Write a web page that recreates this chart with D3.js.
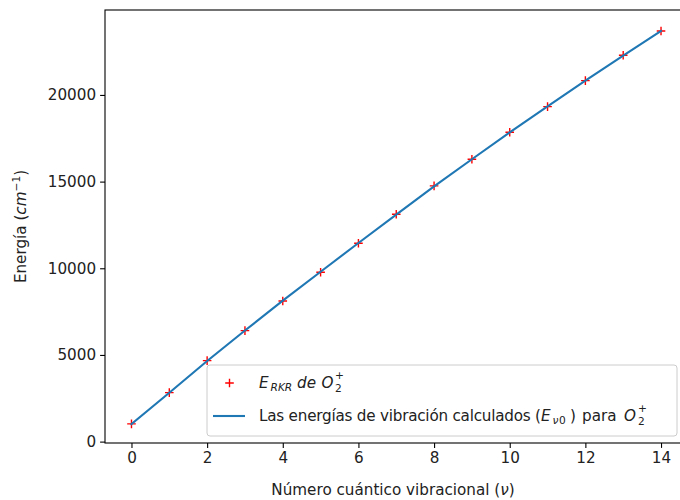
<!DOCTYPE html>
<html>
<head>
<meta charset="utf-8">
<script src="https://cdn.jsdelivr.net/npm/d3@7"></script>
<style>
  html, body { margin: 0; padding: 0; background: #fff; }
  svg { display: block; font-family: "DejaVu Sans", sans-serif; }
</style>
</head>
<body>
<svg id="chart" width="680" height="500"></svg>
<script>
// Vibrational quantum number v
const vibLevels = [0, 1, 2, 3, 4, 5, 6, 7, 8, 9, 10, 11, 12, 13, 14];
// RKR energies of O2+ (cm^-1)
const energyRKR = [1021, 2827, 4673, 6403, 8116, 9772, 11445, 13118, 14751, 16291, 17848, 19325, 20825, 22290, 23692];
// Calculated vibrational energies E_v0 (cm^-1)
const energyCalc = [1010, 2820, 4650, 6410, 8130, 9800, 11460, 13100, 14720, 16290, 17840, 19340, 20820, 22270, 23690];
// Tick values
const xTicks = [0, 2, 4, 6, 8, 10, 12, 14];
const yTicks = [0, 5000, 10000, 15000, 20000];

const svg = d3.select("#chart");
const plot = { left: 105, right: 687.5, top: 10, bottom: 443 };
const fs = 15.2;
const sub = fs * 0.7;

const x = d3.scaleLinear().domain([-0.7, 14.7]).range([plot.left, plot.right]);
const y = d3.scaleLinear().domain([-80, 24900]).range([plot.bottom, plot.top]);

// Axes
const xAxis = d3.axisBottom(x).tickValues(xTicks).tickSize(4.9).tickPadding(4).tickFormat(d3.format("d"));
const yAxis = d3.axisLeft(y).tickValues(yTicks).tickSize(4.9).tickPadding(4).tickFormat(d3.format("d"));

const gx = svg.append("g").attr("transform", `translate(0,${plot.bottom})`).call(xAxis);
const gy = svg.append("g").attr("transform", `translate(${plot.left},0)`).call(yAxis);
[gx, gy].forEach(g => {
  g.select(".domain").remove();
  g.selectAll(".tick line").attr("stroke", "#000").attr("stroke-width", 1.1);
  g.selectAll(".tick text").attr("fill", "#222").attr("font-size", fs).attr("font-family", "DejaVu Sans");
});

// Frame
svg.append("rect")
  .attr("x", plot.left).attr("y", plot.top)
  .attr("width", plot.right - plot.left).attr("height", plot.bottom - plot.top)
  .attr("fill", "none").attr("stroke", "#000").attr("stroke-width", 1.1);

// RKR points as '+' markers
const ms = 4.3;
const pts = svg.append("g");
vibLevels.forEach((v, i) => {
  const cx = x(v), cy = y(energyRKR[i]);
  pts.append("path")
    .attr("d", `M${cx - ms},${cy}H${cx + ms}M${cx},${cy - ms}V${cy + ms}`)
    .attr("stroke", "red").attr("stroke-width", 1.4).attr("fill", "none");
});

// Calculated energy line
const line = d3.line().x((d, i) => x(vibLevels[i])).y(d => y(d));
svg.append("path")
  .datum(energyCalc)
  .attr("d", line)
  .attr("fill", "none")
  .attr("stroke", "#1f77b4")
  .attr("stroke-width", 2.1)
  .attr("stroke-linecap", "square");

// Axis labels
const xl = svg.append("text")
  .attr("x", 393).attr("y", 495)
  .attr("text-anchor", "middle").attr("font-size", fs).attr("fill", "#222");
xl.append("tspan").text("Número cuántico vibracional (");
xl.append("tspan").attr("font-style", "italic").text("ν");
xl.append("tspan").text(")");

const yl = svg.append("text")
  .attr("transform", `translate(26,${(plot.top + plot.bottom) / 2}) rotate(-90)`)
  .attr("text-anchor", "middle").attr("font-size", fs).attr("fill", "#222");
yl.append("tspan").text("Energía (");
yl.append("tspan").attr("font-style", "italic").text("cm");
yl.append("tspan").attr("dy", -6).attr("font-size", sub).text("−1");
yl.append("tspan").attr("dy", 6).text(")");

// Legend
const lg = { x0: 207, y0: 365, x1: 677, y1: 436 };
svg.append("rect")
  .attr("x", lg.x0).attr("y", lg.y0)
  .attr("width", lg.x1 - lg.x0).attr("height", lg.y1 - lg.y0)
  .attr("rx", 3).attr("ry", 3)
  .attr("fill", "#fff").attr("fill-opacity", 0.8)
  .attr("stroke", "#ccc").attr("stroke-width", 1);

// One text run at a given position and baseline offset
function run(x0, base, str, opts = {}) {
  const t = svg.append("text")
    .attr("x", x0).attr("y", base + (opts.shift || 0))
    .attr("font-size", opts.size || fs)
    .attr("font-style", opts.italic ? "italic" : "normal")
    .attr("fill", "#222")
    .text(str);
  if (opts.len) t.attr("textLength", opts.len).attr("lengthAdjust", "spacing");
  return t;
}

// entry 1: marker + label  E_RKR de O_2^+
const m1x = 229.5, m1y = 383;
svg.append("path")
  .attr("d", `M${m1x - ms},${m1y}H${m1x + ms}M${m1x},${m1y - ms}V${m1y + ms}`)
  .attr("stroke", "red").attr("stroke-width", 1.4);
const b1 = 388;
run(259, b1, "E", { italic: true });
run(270.5, b1, "RKR", { italic: true, size: sub, shift: 2.5 });
run(297, b1, "de", { italic: true });
run(321.5, b1, "O", { italic: true });
run(335, b1, "2", { size: sub, shift: 3.5 });
run(335, b1, "+", { size: sub, shift: -9.5 });

// entry 2: line + label
svg.append("line")
  .attr("x1", 213).attr("x2", 245).attr("y1", 416).attr("y2", 416)
  .attr("stroke", "#1f77b4").attr("stroke-width", 2.1);
const b2 = 421;
run(259, b2, "Las energías de vibración calculados (", { len: 282 });
run(541, b2, "E", { italic: true });
run(552.5, b2, "ν", { italic: true, size: sub, shift: 2.5 });
run(559, b2, "0", { size: sub, shift: 2.5 });
run(570, b2, ")");
run(582, b2, "para");
run(624, b2, "O", { italic: true });
run(638, b2, "2", { size: sub, shift: 3.5 });
run(638, b2, "+", { size: sub, shift: -9.5 });
</script>
</body>
</html>
